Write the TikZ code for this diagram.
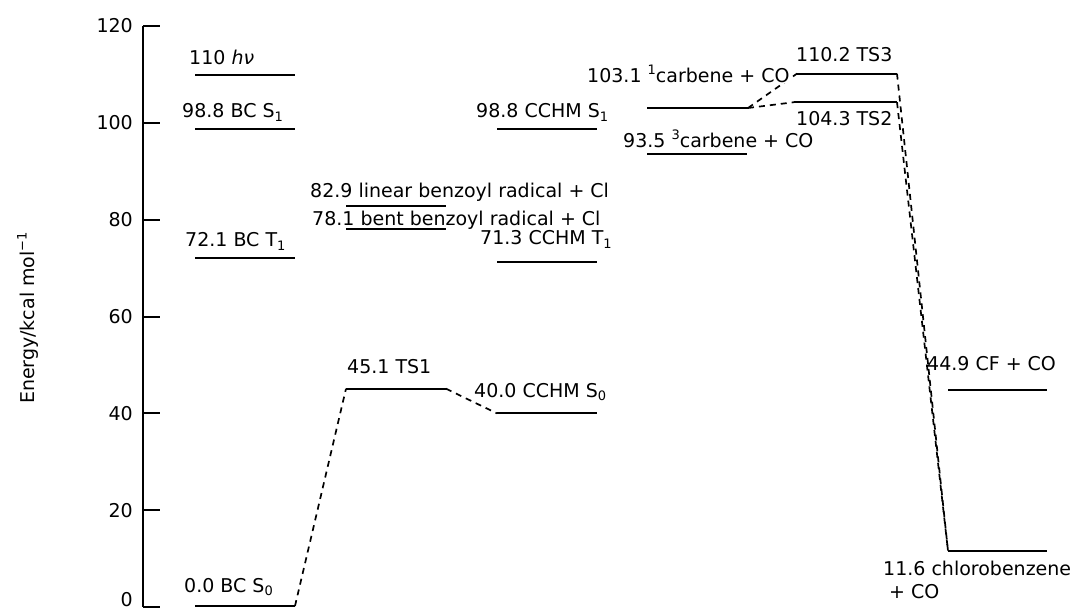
\documentclass[tikz,border=0pt]{standalone}
\usepackage{fontspec}
\setmainfont{DejaVu Sans}
\newcommand\lsub[1]{\raisebox{-0.35ex}{\fontsize{13}{13}\selectfont #1}}
\newcommand\lsup[1]{\raisebox{0.8ex}{\fontsize{13}{13}\selectfont #1}}
\begin{document}
\begin{tikzpicture}[x=1pt,y=-1pt,
  lvl/.style={line width=2pt},
  conn/.style={line width=1.7pt, dash pattern=on 6pt off 5pt},
  axisline/.style={line width=2pt},
  lab/.style={anchor=base west, inner sep=0pt, font=\fontsize{19}{22}\selectfont},
  ticklab/.style={anchor=east, inner sep=0pt, font=\fontsize{19}{22}\selectfont}]
\useasboundingbox[fill=white] (0,0) rectangle (1078,612);
% axis
\coordinate (axtop) at (143,26);
\coordinate (axbot) at (143,607);
\draw[axisline] (axtop) -- (axbot);
\foreach \v/\yy/\ly in {0/607/600,20/510.2/510.2,40/413.4/413.4,60/316.6/316.6,80/219.8/219.8,100/123/123,120/26/26}{
  \draw[axisline] (143,\yy) -- (160,\yy);
  \node[ticklab] (t\v) at (133,\ly) {\v};
}
\node[rotate=90, inner sep=0pt, font=\fontsize{19}{22}\selectfont] (ytitle) at (28,318) {Energy/kcal mol\lsup{−1}};
% levels
\coordinate (hvL) at (195,74.6);   \coordinate (hvR) at (295,74.6);
\coordinate (bcs1L) at (195,128.8); \coordinate (bcs1R) at (295,128.8);
\coordinate (bct1L) at (195,258);  \coordinate (bct1R) at (295,258);
\coordinate (bcs0L) at (195,606);  \coordinate (bcs0R) at (295,606);
\coordinate (linL) at (346,205.8); \coordinate (linR) at (446,205.8);
\coordinate (bentL) at (346,229);  \coordinate (bentR) at (446,229);
\coordinate (ts1L) at (346,388.7); \coordinate (ts1R) at (446,388.7);
\coordinate (ccs1L) at (497,128.8); \coordinate (ccs1R) at (597,128.8);
\coordinate (cct1L) at (497,261.9); \coordinate (cct1R) at (597,261.9);
\coordinate (ccs0L) at (497,413.4); \coordinate (ccs0R) at (597,413.4);
\coordinate (c1L) at (647,108);    \coordinate (c1R) at (748,108);
\coordinate (c3L) at (647,154.5);  \coordinate (c3R) at (747,154.5);
\coordinate (ts3L) at (797,73.6);  \coordinate (ts3R) at (897,73.6);
\coordinate (ts2L) at (794,102.2); \coordinate (ts2R) at (897,102.2);
\coordinate (cfL) at (948,389.7);  \coordinate (cfR) at (1047,389.7);
\coordinate (clL) at (948,550.9);  \coordinate (clR) at (1047,550.9);
\foreach \a in {hv,bcs1,bct1,bcs0,lin,bent,ts1,ccs1,cct1,ccs0,c1,c3,ts3,ts2,cf,cl}{
  \draw[lvl] (\a L) -- (\a R);
}
% connectors
\draw[conn] (bcs0R) -- (ts1L);
\draw[conn] (ts1R) -- (ccs0L);
\draw[conn] (c1R) -- (ts3L);
\draw[conn] (c1R) -- (ts2L);
\draw[conn] (ts3R) -- (clL);
\draw[conn] (ts2R) -- (clL);
% labels
\node[lab] (lhv) at (189,65) {110 \textit{hν}};
\node[lab] (lbcs1) at (182,118) {98.8 BC S\lsub{1}};
\node[lab] (lbct1) at (185,247) {72.1 BC T\lsub{1}};
\node[lab] (lbcs0) at (184,592) {0.0 BC S\lsub{0}};
\node[lab] (llin) at (310,198) {82.9 linear benzoyl radical + Cl};
\node[lab] (lbent) at (312,226) {78.1 bent benzoyl radical + Cl};
\node[lab] (lts1) at (347,373) {45.1 TS1};
\node[lab] (lccs1) at (476,118) {98.8 CCHM S\lsub{1}};
\node[lab] (lcct1) at (480,245) {71.3 CCHM T\lsub{1}};
\node[lab] (lccs0) at (474,397) {40.0 CCHM S\lsub{0}};
\node[lab, fill=white] (lc1) at (587,83) {103.1 \lsup{1}carbene + CO};
\node[lab] (lc3) at (623,148) {93.5 \lsup{3}carbene + CO};
\node[lab] (lts3) at (796,62) {110.2 TS3};
\node[lab] (lts2) at (796,126) {104.3 TS2};
\node[lab] (lcf) at (927,370) {44.9 CF + CO};
\node[lab] (lcla) at (883,575) {11.6 chlorobenzene};
\node[lab] (lclb) at (889,598) {+ CO};
\end{tikzpicture}
\end{document}
